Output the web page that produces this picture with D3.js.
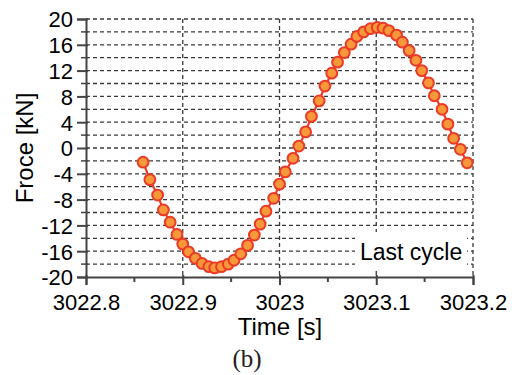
<!DOCTYPE html>
<html>
<head>
<meta charset="utf-8">
<script src="https://cdn.jsdelivr.net/npm/d3@7"></script>
<style>
  body { margin: 0; background: #fff; }
  svg { display: block; }
</style>
</head>
<body>
<div id="chart"></div>
<script>
// values, last cycle of the force record
const time = [
  3022.859, 3022.866, 3022.874, 3022.880, 3022.887, 3022.894, 3022.900, 3022.906,
  3022.913, 3022.920, 3022.927, 3022.933, 3022.940, 3022.947, 3022.953, 3022.960,
  3022.967, 3022.974, 3022.980, 3022.986, 3022.994, 3023.000, 3023.006, 3023.014,
  3023.020, 3023.027, 3023.033, 3023.041, 3023.047, 3023.054, 3023.060, 3023.067,
  3023.074, 3023.080, 3023.087, 3023.094, 3023.101, 3023.107, 3023.113, 3023.121,
  3023.127, 3023.134, 3023.141, 3023.147, 3023.154, 3023.160, 3023.168, 3023.174,
  3023.180, 3023.187, 3023.194
];
const force = [
  -2.2, -4.9, -7.3, -9.6, -11.5, -13.4, -14.9, -16.1,
  -17.1, -17.9, -18.4, -18.6, -18.4, -18.0, -17.4, -16.4,
  -15.1, -13.5, -11.8, -9.8, -7.8, -5.6, -3.7, -1.6,
  0.3, 2.5, 4.9, 7.3, 9.6, 11.6, 13.3, 14.8,
  16.1, 17.3, 18.0, 18.5, 18.7, 18.6, 18.2, 17.5,
  16.4, 15.1, 13.6, 12.0, 10.1, 8.1, 6.0, 3.7,
  1.5, -0.2, -2.3
];
const xTicks = [3022.8, 3022.9, 3023, 3023.1, 3023.2];
const xMinor = [3022.85, 3022.95, 3023.05, 3023.15];
const yTicks = [-20, -16, -12, -8, -4, 0, 4, 8, 12, 16, 20];
const yGrid = d3.range(-18, 21, 2);

const W = 518, H = 375;
const m = { left: 86, right: 473, top: 19, bottom: 277 };
const sans = "'Liberation Sans', Arial, sans-serif";

const svg = d3.select("#chart").append("svg")
  .attr("width", W).attr("height", H);

const x = d3.scaleLinear().domain([3022.8, 3023.2]).range([m.left, m.right]);
const y = d3.scaleLinear().domain([-20, 20]).range([m.bottom, m.top]);

// dashed grid
const grid = svg.append("g")
  .attr("stroke", "#3a3a3a")
  .attr("stroke-width", 1.3)
  .attr("stroke-dasharray", "4,3");

grid.selectAll(".h").data(yGrid).join("line")
  .attr("class", "h")
  .attr("x1", m.left).attr("x2", m.right)
  .attr("y1", d => y(d)).attr("y2", d => y(d));

grid.selectAll(".v").data(xTicks.slice(1)).join("line")
  .attr("class", "v")
  .attr("x1", d => x(d)).attr("x2", d => x(d))
  .attr("y1", m.top).attr("y2", m.bottom);

// white box behind the label
svg.append("rect")
  .attr("x", 355).attr("y", 232)
  .attr("width", 112).attr("height", 38)
  .attr("fill", "#fff");

svg.append("text")
  .attr("x", 360).attr("y", 260)
  .attr("font-family", sans).attr("font-size", 23)
  .attr("fill", "#000")
  .text("Last cycle");

// axes
const xAxis = d3.axisBottom(x).tickValues(xTicks).tickSize(8).tickFormat(d3.format("~f"));
const gx = svg.append("g").attr("transform", `translate(0,${m.bottom})`).call(xAxis);
gx.selectAll(".tick line").attr("y1", -2);
svg.append("g").selectAll("line").data(xMinor).join("line")
  .attr("x1", d => x(d)).attr("x2", d => x(d))
  .attr("y1", m.bottom).attr("y2", m.bottom + 5)
  .attr("stroke", "#444").attr("stroke-width", 2);

const yAxis = d3.axisLeft(y).tickValues(yTicks).tickSize(9)
  .tickFormat(d => String(d)); // plain hyphen, as in the figure
const gy = svg.append("g").attr("transform", `translate(${m.left},0)`).call(yAxis);
gy.selectAll(".tick line").attr("x1", 2);
svg.append("g").selectAll("line").data(yGrid.filter(d => d % 4 !== 0)).join("line")
  .attr("x1", m.left - 5).attr("x2", m.left + 2)
  .attr("y1", d => y(d)).attr("y2", d => y(d))
  .attr("stroke", "#444").attr("stroke-width", 1.5);

[gx, gy].forEach(g => {
  g.select(".domain").attr("stroke", "#444").attr("stroke-width", 2);
  g.selectAll(".tick line").attr("stroke", "#444").attr("stroke-width", 2);
  g.selectAll("text")
    .attr("font-family", sans).attr("font-size", 22).attr("fill", "#000");
});
gx.selectAll("text").attr("y", 33).attr("dy", null);
gy.selectAll("text").attr("x", -13).attr("dy", "0.36em");

// series
const pts = time.map((t, i) => [t, force[i]]);
svg.append("path")
  .datum(pts)
  .attr("fill", "none")
  .attr("stroke", "#ec3a26")
  .attr("stroke-width", 2.2)
  .attr("d", d3.line().x(d => x(d[0])).y(d => y(d[1])));

svg.append("g").selectAll("circle").data(pts).join("circle")
  .attr("cx", d => x(d[0])).attr("cy", d => y(d[1]))
  .attr("r", 5.4)
  .attr("fill", "#f8983a")
  .attr("stroke", "#ec3a26")
  .attr("stroke-width", 2);

// axis titles
svg.append("text")
  .attr("x", (m.left + m.right) / 2 + 0.5).attr("y", 335)
  .attr("text-anchor", "middle")
  .attr("font-family", sans).attr("font-size", 24)
  .text("Time [s]");

svg.append("text")
  .attr("transform", `translate(33,${(m.top + m.bottom) / 2}) rotate(-90)`)
  .attr("text-anchor", "middle")
  .attr("font-family", sans).attr("font-size", 24)
  .text("Froce [kN]");

svg.append("text")
  .attr("x", 247).attr("y", 367)
  .attr("text-anchor", "middle")
  .attr("font-family", "'Liberation Serif', 'Times New Roman', serif")
  .attr("font-size", 25)
  .attr("fill", "#222")
  .text("(b)");
</script>
</body>
</html>
